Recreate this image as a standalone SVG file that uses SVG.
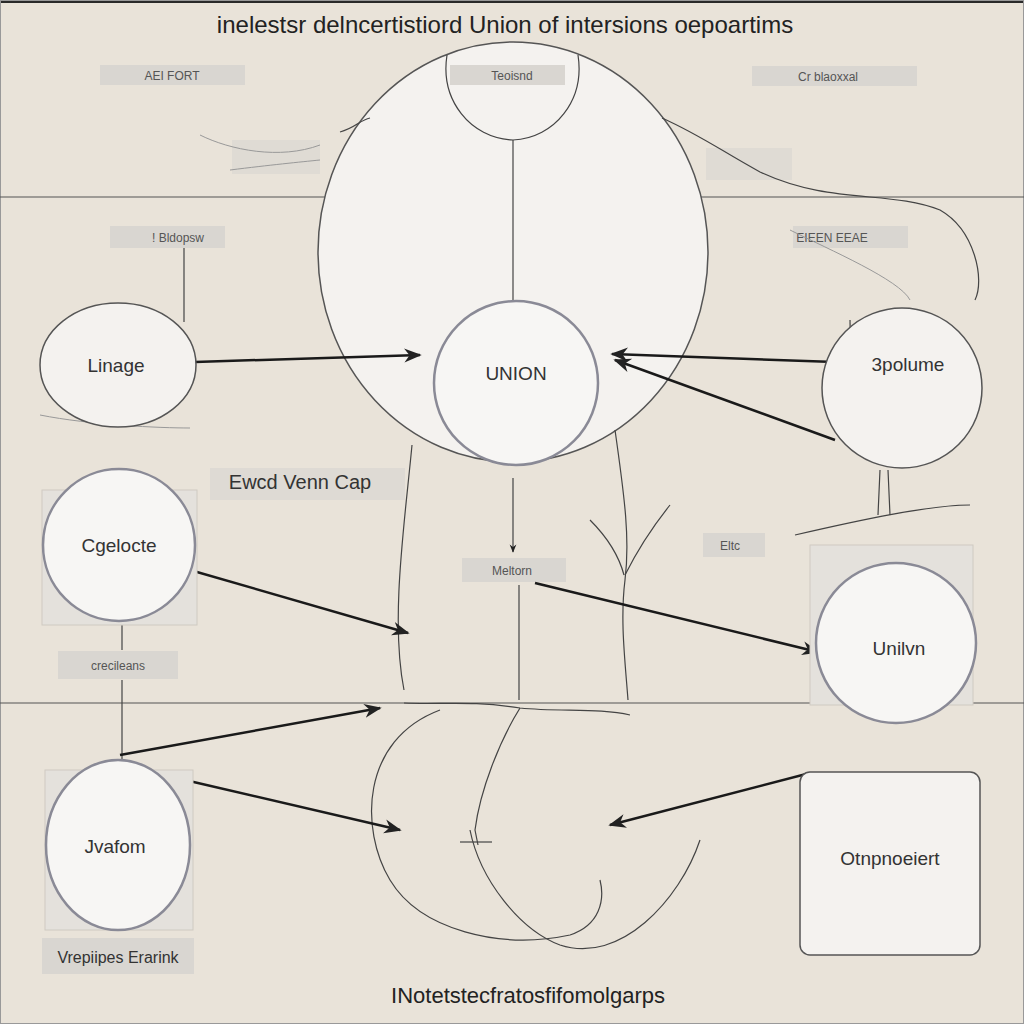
<svg xmlns="http://www.w3.org/2000/svg" width="1024" height="1024" viewBox="0 0 1024 1024">
<defs>
<marker id="ah" viewBox="0 0 10 10" refX="9" refY="5" markerWidth="7" markerHeight="7" orient="auto-start-reverse"><path d="M0,1 L10,5 L0,9 L3,5 Z" fill="#222"/></marker>
<style>
.bg{fill:#e9e3d9}
.node{fill:#f4f2ef;stroke:#555;stroke-width:1.5}
.node2{fill:#f7f6f4;stroke:#8a8a96;stroke-width:2.5}
.panel{fill:#e4e1dc;stroke:#cfcac2;stroke-width:1}
.lbl{fill:#d9d6d1}
.lt{font-family:"Liberation Sans",Arial,sans-serif;font-size:12px;fill:#555;text-anchor:middle}
.nt{font-family:"Liberation Sans",Arial,sans-serif;font-size:19px;fill:#333;text-anchor:middle}
.thin{fill:none;stroke:#444;stroke-width:1.2}
.faint{fill:none;stroke:#999;stroke-width:1}
.arr{fill:none;stroke:#1a1a1a;stroke-width:2.5;marker-end:url(#ah)}
.rule{stroke:#555;stroke-width:1.2}
</style>
</defs>
<rect class="bg" width="1024" height="1024"/>
<rect x="0" y="0" width="1024" height="3" fill="#2a2a2a"/>
<rect x="0.5" y="0.5" width="1023" height="1023" fill="none" stroke="#999" stroke-width="1"/>
<text x="505" y="33" font-family="Liberation Sans,Arial,sans-serif" font-size="24" fill="#222" text-anchor="middle">inelestsr delncertistiord Union  of  intersions oepoartims</text>
<g id="rules">
<line class="rule" x1="0" y1="197" x2="1024" y2="197"/>
<line class="rule" x1="0" y1="703" x2="1024" y2="703"/>
</g>
<g id="big-circle"><ellipse cx="513" cy="252" rx="195" ry="210" class="node" fill="#ebe8e3"/></g>
<g id="labels">
<rect class="lbl" x="100" y="65" width="145" height="20"/><text class="lt" x="172" y="80">AEI FORT</text>
<rect class="lbl" x="450" y="65" width="115" height="20"/><text class="lt" x="512" y="80">Teoisnd</text>
<rect class="lbl" x="752" y="66" width="165" height="20"/><text class="lt" x="828" y="81">Cr blaoxxal</text>
<rect class="lbl" x="110" y="226" width="115" height="22"/><text class="lt" x="178" y="242">! Bldopsw</text>
<rect class="lbl" x="793" y="226" width="115" height="22"/><text class="lt" x="832" y="242">EIEEN EEAE</text>
<rect class="lbl" x="210" y="468" width="195" height="32" opacity="0.7"/><text x="300" y="489" font-family="Liberation Sans,Arial,sans-serif" font-size="20" fill="#333" text-anchor="middle">Ewcd Venn Cap</text>
<rect class="lbl" x="462" y="558" width="104" height="24"/><text class="lt" x="512" y="575">Meltorn</text>
<rect class="lbl" x="703" y="533" width="62" height="24"/><text class="lt" x="730" y="550">Eltc</text>
<rect class="lbl" x="58" y="651" width="120" height="28"/><text class="lt" x="118" y="670">crecileans</text>
<rect class="lbl" x="42" y="938" width="152" height="36"/><text x="118" y="963" font-family="Liberation Sans,Arial,sans-serif" font-size="16" fill="#333" text-anchor="middle">Vrepiipes Erarink</text>
<rect class="lbl" x="232" y="140" width="88" height="34" opacity="0.6"/>
<rect class="lbl" x="706" y="148" width="86" height="32" opacity="0.6"/>
</g>
<g id="connectors">
<path class="thin" d="M447,55 C440,100 470,138 513,140 C555,138 585,100 578,55"/>
<line class="thin" x1="513" y1="140" x2="513" y2="300"/>
<path class="thin" d="M340,132 C355,128 360,120 370,118"/>
<path class="thin" d="M662,118 C700,135 720,150 760,172 C830,205 890,190 940,210 C975,230 985,280 975,300"/>
<path class="faint" d="M200,135 C230,150 280,160 320,145"/>
<path class="faint" d="M230,170 C270,165 300,162 320,160"/>
<path class="faint" d="M790,230 C830,250 900,280 910,300"/>
<line class="thin" x1="184" y1="248" x2="184" y2="322"/>
<path class="faint" d="M40,415 C90,425 160,428 190,428"/>
<path class="thin" d="M850,320 L852,450"/>
<path class="thin" d="M880,470 L878,515 M888,470 L890,515"/>
<path class="thin" d="M795,535 C860,520 930,505 970,505"/>
<path class="thin" d="M412,445 C405,520 390,620 404,690"/>
<path class="thin" d="M615,430 C625,500 630,540 625,580 C620,620 625,660 628,700"/>
<path class="thin" d="M670,505 C650,530 635,555 625,575"/>
<path class="thin" d="M590,520 C610,540 620,560 624,575"/>
<line class="thin" x1="513" y1="478" x2="513" y2="552" marker-end="url(#ah)"/>
<line class="thin" x1="519" y1="585" x2="519" y2="700"/>
<line class="thin" x1="122" y1="625" x2="122" y2="650"/>
<line class="thin" x1="122" y1="680" x2="122" y2="760"/>
<path class="thin" d="M404,703 C440,705 470,700 520,708 C560,712 600,708 630,715"/>
<path class="thin" d="M520,708 C500,740 480,790 475,830 L478,845"/>
<path class="thin" d="M440,710 C360,740 360,830 390,880 C420,930 500,950 570,935 C600,925 605,900 600,880"/>
<path class="thin" d="M470,830 C480,880 520,930 560,945 C620,965 680,900 700,840"/>
<path class="thin" d="M460,842 L492,842"/>
<line class="arr" x1="195" y1="362" x2="420" y2="355"/>
<line class="arr" x1="835" y1="362" x2="612" y2="354"/>
<line class="arr" x1="835" y1="440" x2="615" y2="360"/>
<line class="arr" x1="190" y1="570" x2="408" y2="633"/>
<line class="arr" x1="535" y1="583" x2="818" y2="652"/>
<line class="arr" x1="120" y1="755" x2="380" y2="708"/>
<line class="arr" x1="185" y1="780" x2="400" y2="830"/>
<line class="arr" x1="810" y1="773" x2="610" y2="825"/>
</g>
<g id="union-center"><circle cx="516" cy="383" r="82" class="node2" fill="#f1f0ee"/><text class="nt" x="516" y="380" font-size="17">UNION</text></g>
<g id="linage"><ellipse cx="118" cy="365" rx="78" ry="62" class="node" fill="#eeebe6"/><text class="nt" x="116" y="372">Linage</text></g>
<g id="polume"><ellipse cx="902" cy="388" rx="80" ry="80" class="node" fill="#eeebe6"/><text class="nt" x="908" y="371">3polume</text></g>
<g id="cgelocte"><rect class="panel" x="42" y="490" width="155" height="135"/><circle cx="119" cy="545" r="76" class="node2"/><text class="nt" x="119" y="552">Cgelocte</text></g>
<g id="union-right"><rect class="panel" x="810" y="545" width="163" height="160"/><circle cx="896" cy="643" r="80" class="node2"/><text class="nt" x="899" y="655" font-size="17">Unilvn</text></g>
<g id="jvafom"><rect class="panel" x="45" y="770" width="148" height="160"/><ellipse cx="118" cy="845" rx="72" ry="85" class="node2"/><text class="nt" x="115" y="853" font-size="18">Jvafom</text></g>
<g id="otnpnoeiert"><rect x="800" y="772" width="180" height="183" rx="10" class="node" fill="#f8f7f5" stroke="#222"/><text class="nt" x="890" y="865">Otnpnoeiert</text></g>
<text x="528" y="1003" font-family="Liberation Sans,Arial,sans-serif" font-size="22" fill="#222" text-anchor="middle">INotetstecfratosfifomolgarps</text>
</svg>
